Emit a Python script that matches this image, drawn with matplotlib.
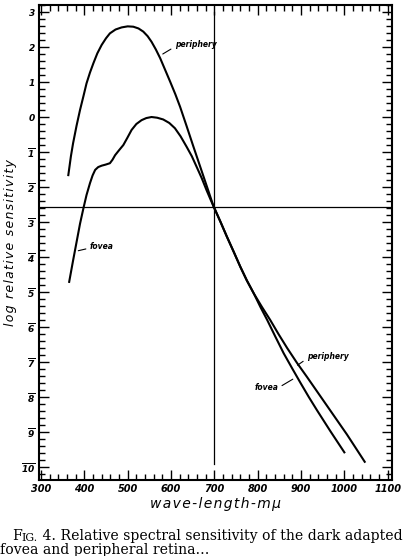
import matplotlib
matplotlib.use("Agg")
import matplotlib.pyplot as plt
from matplotlib.ticker import MultipleLocator

###### Data ####################################################################
# wavelength (m-mu) and log relative sensitivity, periphery curve
periph_wl = [363, 369, 374, 382, 390, 398, 405, 413, 421, 430, 440, 450, 459, 472,
             486, 500, 513, 525, 536, 546, 555, 565, 575, 586, 598, 610, 621, 636,
             651, 663, 675, 687, 698, 714, 729, 745, 760, 775, 791, 810, 829, 848,
             868, 891, 914, 937, 960, 983, 1006, 1026, 1047]
periph_v = [-1.66, -1.12, -0.75, -0.25, 0.2, 0.6, 0.96, 1.27, 1.54, 1.82, 2.06,
            2.25, 2.39, 2.5, 2.56, 2.59, 2.58, 2.53, 2.44, 2.31, 2.15, 1.93, 1.68,
            1.36, 1.01, 0.65, 0.29, -0.26, -0.82, -1.26, -1.7, -2.14, -2.55,
            -2.99, -3.42, -3.86, -4.28, -4.67, -5.04, -5.43, -5.8, -6.2, -6.6,
            -7.03, -7.43, -7.84, -8.25, -8.66, -9.07, -9.45, -9.85]

# fovea curve
fovea_wl = [365, 374, 383, 390, 398, 405, 413, 419, 425, 432, 440, 449, 459, 465,
            471, 480, 490, 499, 509, 520, 532, 543, 555, 568, 582, 596, 609, 622,
            636, 648, 659, 671, 682, 692, 700, 714, 729, 745, 760, 775, 791, 806,
            822, 841, 860, 880, 899, 918, 937, 968, 1000]
fovea_v = [-4.71, -4.1, -3.51, -3.05, -2.6, -2.23, -1.89, -1.67, -1.51, -1.43,
           -1.39, -1.36, -1.32, -1.22, -1.09, -0.95, -0.8, -0.6, -0.37, -0.2,
           -0.09, -0.03, 0.0, -0.02, -0.07, -0.17, -0.32, -0.55, -0.85, -1.12,
           -1.42, -1.75, -2.09, -2.38, -2.6, -2.99, -3.42, -3.86, -4.28, -4.67,
           -5.04, -5.42, -5.8, -6.28, -6.75, -7.19, -7.6, -8.0, -8.38, -8.98,
           -9.58]

cross_wl = 700     # vertical reference line
cross_v = -2.57    # horizontal reference line

xtick_vals = [300, 400, 500, 600, 700, 800, 900, 1000, 1100]
ytick_vals = [3, 2, 1, 0, -1, -2, -3, -4, -5, -6, -7, -8, -9, -10]
ytick_labels = ['3', '2', '1', '0'] + [r'$\overline{%d}$' % (-v) for v in ytick_vals[4:]]

xlabel = 'wave-length-m\u03bc'
ylabel = 'log relative sensitivity'
caption1 = ' 4. Relative spectral sensitivity of the dark adapted'
caption2 = 'fovea and peripheral retina...'


def spaced(s):
    # hair space between letters, like the spread lettering of the original
    return '\u200a'.join(s)


###### Style ###################################################################
plt.rcParams['mathtext.fontset'] = 'custom'
plt.rcParams['mathtext.rm'] = 'DejaVu Sans:italic:bold'
plt.rcParams['mathtext.it'] = 'DejaVu Sans:italic:bold'
plt.rcParams['mathtext.bf'] = 'DejaVu Sans:italic:bold'

fig = plt.figure(figsize=(4.14, 5.56), dpi=100)
ax = fig.add_axes([0.0954, 0.1367, 0.8515, 0.8543])

ax.plot(periph_wl, periph_v, color='black', lw=1.5, solid_joinstyle='round')
ax.plot(fovea_wl, fovea_v, color='black', lw=1.5, solid_joinstyle='round')

ax.axhline(cross_v, color='black', lw=0.9)
ax.plot([cross_wl, cross_wl], [3.0, -9.9], color='black', lw=0.9)

ax.set_xlim(296.5, 1110)
ax.set_ylim(-10.37, 3.2)

# labels on the curves
lab = dict(fontsize=5.5, fontweight='bold', style='italic', va='center')
arr = dict(arrowstyle='-', lw=0.8, shrinkA=1, shrinkB=0)
ax.annotate('periphery', xy=(581, 1.8), xytext=(609, 2.06), ha='left',
            arrowprops=dict(arr, relpos=(0, 0.3)), **lab)
ax.annotate('fovea', xy=(386, -3.82), xytext=(413, -3.69), ha='left',
            arrowprops=dict(arr, relpos=(0, 0.3)), **lab)
ax.annotate('periphery', xy=(892, -7.09), xytext=(914, -6.85), ha='left',
            arrowprops=dict(arr, relpos=(0, 0.3)), **lab)
ax.annotate('fovea', xy=(881, -7.49), xytext=(847, -7.74), ha='right',
            arrowprops=dict(arr, relpos=(1, 0.5)), **lab)

###### Axes ####################################################################
for s in ax.spines.values():
    s.set_linewidth(1.5)

ax.set_xticks(xtick_vals)
ax.set_xticklabels([str(v) for v in xtick_vals], fontsize=7,
                   fontweight='bold', style='italic')
ax.set_yticks(ytick_vals)
ax.set_yticklabels(ytick_labels, fontsize=6.5, fontweight='bold', style='italic')
ax.xaxis.set_minor_locator(MultipleLocator(20))
ax.yaxis.set_minor_locator(MultipleLocator(0.2))
ax.tick_params(which='both', direction='in', top=True, right=True, width=1.0)
ax.tick_params(which='major', length=7, pad=3)
ax.tick_params(which='minor', length=4)

ax.set_xlabel(spaced(xlabel), fontsize=10, style='italic', labelpad=2)
ax.set_ylabel(spaced(ylabel), fontsize=9, style='italic', labelpad=3)

###### Caption #################################################################
cap = dict(family='DejaVu Serif', va='bottom', annotation_clip=False)
t1 = ax.annotate('F', xy=(12 / 414, 1 - 543 / 556), xycoords='figure fraction',
                 fontsize=10.1, **cap)
t2 = ax.annotate('IG.', xy=(1, 0), xycoords=t1, fontsize=7.8, **cap)
ax.annotate(caption1, xy=(1, 0), xycoords=t2, fontsize=10.1, **cap)
fig.text(0.0, 1 - 554 / 556, caption2, fontsize=10.1, family='DejaVu Serif',
         va='baseline')

plt.savefig('out.png', dpi=100)
